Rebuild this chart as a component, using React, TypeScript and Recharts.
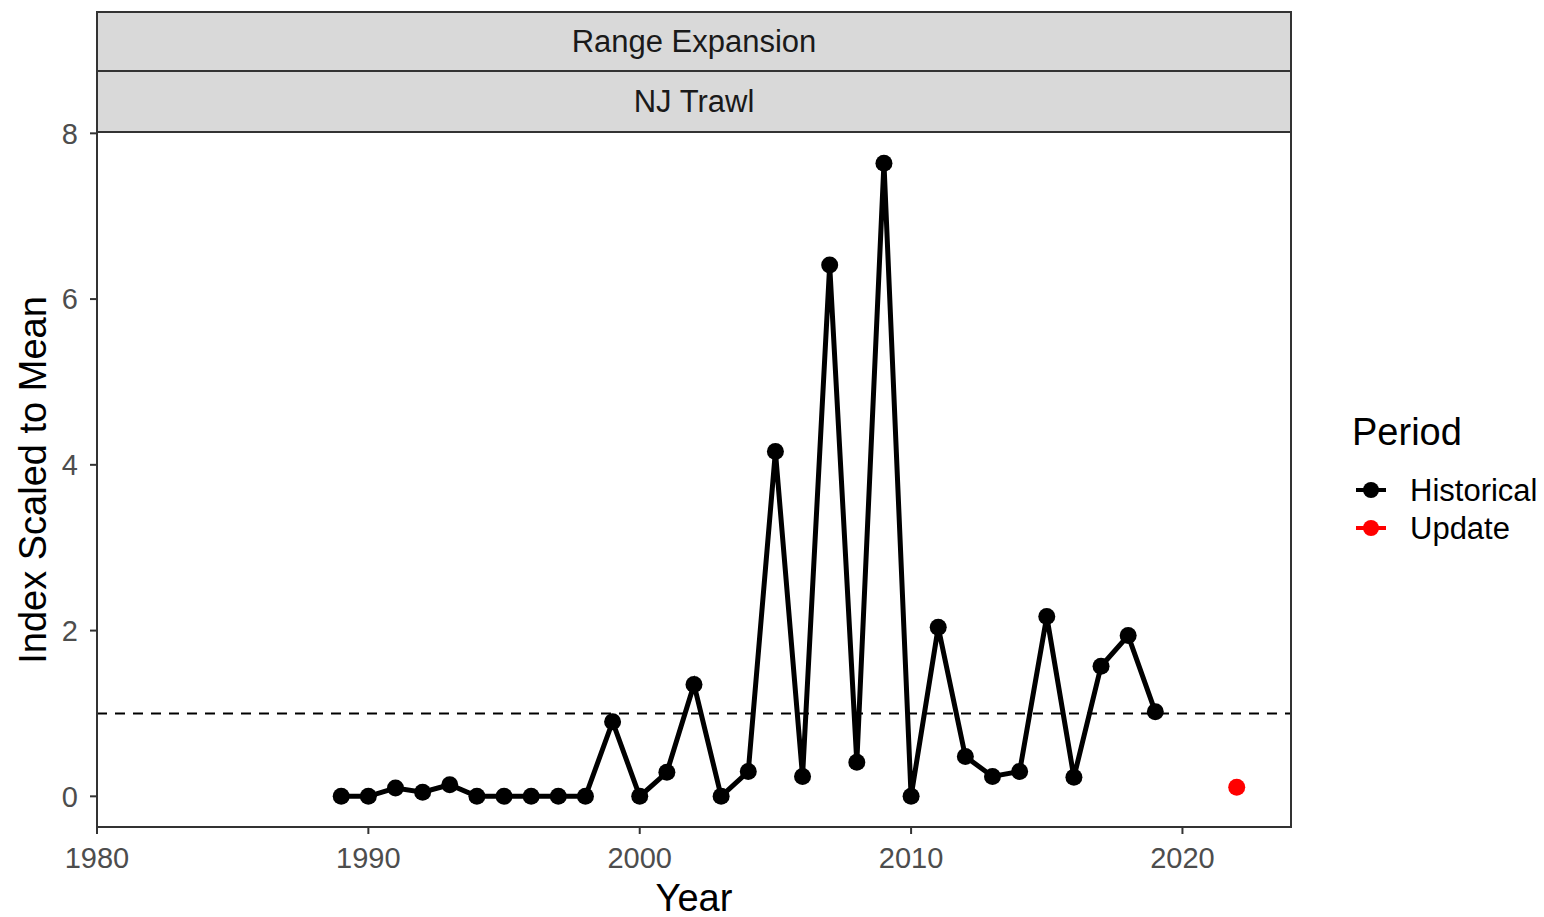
import React from "react";
import { ComposedChart, Line, XAxis, YAxis, ReferenceLine } from "recharts";

const historicalYears = [1989, 1990, 1991, 1992, 1993, 1994, 1995, 1996, 1997, 1998, 1999, 2000, 2001, 2002, 2003, 2004, 2005, 2006, 2007, 2008, 2009, 2010, 2011, 2012, 2013, 2014, 2015, 2016, 2017, 2018, 2019];
const historicalValues = [0, 0, 0.1, 0.05, 0.14, 0, 0, 0, 0, 0, 0.9, 0, 0.29, 1.35, 0, 0.3, 4.16, 0.24, 6.41, 0.41, 7.64, 0, 2.04, 0.48, 0.24, 0.3, 2.17, 0.23, 1.57, 1.94, 1.02];
const updateYears = [2022];
const updateValues = [0.11];
const xTicks = [1980, 1990, 2000, 2010, 2020];
const yTicks = [0, 2, 4, 6, 8];
const stripLabels = ["Range Expansion", "NJ Trawl"];
const legendTitle = "Period";
const legendItems = [
  { name: "Historical", color: "#000000" },
  { name: "Update", color: "#FF0000" },
];

const historical = historicalYears.map((year, i) => ({ year, value: historicalValues[i] }));
const update = updateYears.map((year, i) => ({ year, value: updateValues[i] }));

const FONT = "'Liberation Sans', Arial, sans-serif";

export default function App() {
  return (
    <div style={{ position: "absolute", left: 0, top: 0, width: 1544, height: 917, background: "#fff", fontFamily: FONT }}>
      <ComposedChart width={1544} height={917} margin={{ top: 132, right: 253, bottom: 0, left: 0 }}>
        <XAxis
          type="number"
          dataKey="year"
          domain={[1980, 2024]}
          ticks={xTicks}
          allowDataOverflow
          height={90}
          axisLine={false}
          tickSize={7}
          tickMargin={13}
          tickLine={{ stroke: "#333333", strokeWidth: 2 }}
          tick={{ fill: "#4d4d4d", fontSize: 29, fontFamily: FONT }}
        />
        <YAxis
          type="number"
          dataKey="value"
          domain={[-0.37, 8.016]}
          ticks={yTicks}
          allowDataOverflow
          width={97}
          axisLine={false}
          tickSize={7}
          tickMargin={12}
          tickLine={{ stroke: "#333333", strokeWidth: 2 }}
          tick={{ fill: "#4d4d4d", fontSize: 29, fontFamily: FONT }}
        />
        <ReferenceLine y={1} stroke="#000000" strokeWidth={2} strokeDasharray="10 8" />
        <Line
          data={historical}
          dataKey="value"
          type="linear"
          stroke="#000000"
          strokeWidth={5}
          dot={{ r: 8.5, fill: "#000000", stroke: "none" }}
          activeDot={false}
          isAnimationActive={false}
        />
        <Line
          data={update}
          dataKey="value"
          type="linear"
          stroke="#FF0000"
          strokeWidth={5}
          dot={{ r: 8.5, fill: "#FF0000", stroke: "none" }}
          activeDot={false}
          isAnimationActive={false}
        />
      </ComposedChart>
      <svg width={1544} height={917} style={{ position: "absolute", left: 0, top: 0, pointerEvents: "none" }}>
        <rect x={97} y={12} width={1194} height={59} fill="#d9d9d9" stroke="#333333" strokeWidth={2} />
        <rect x={97} y={71} width={1194} height={61} fill="#d9d9d9" stroke="#333333" strokeWidth={2} />
        <text x={694} y={41.5} dy="0.35em" textAnchor="middle" fontSize={31} fill="#1a1a1a" fontFamily={FONT}>{stripLabels[0]}</text>
        <text x={694} y={101.5} dy="0.35em" textAnchor="middle" fontSize={31} fill="#1a1a1a" fontFamily={FONT}>{stripLabels[1]}</text>
        <rect x={97} y={12} width={1194} height={815} fill="none" stroke="#333333" strokeWidth={2} />
        <text x={694} y={911} textAnchor="middle" fontSize={38} fill="#000000" fontFamily={FONT}>Year</text>
        <text transform="translate(46,480) rotate(-90)" textAnchor="middle" fontSize={38} fill="#000000" fontFamily={FONT}>Index Scaled to Mean</text>
        <text x={1352} y={445} fontSize={38} fill="#000000" fontFamily={FONT}>{legendTitle}</text>
        {legendItems.map((item, i) => {
          const cy = 490 + i * 38;
          return (
            <g key={item.name}>
              <line x1={1356} x2={1386} y1={cy} y2={cy} stroke={item.color} strokeWidth={4} />
              <circle cx={1371} cy={cy} r={8} fill={item.color} />
              <text x={1410} y={cy} dy="0.35em" fontSize={31} fill="#000000" fontFamily={FONT}>{item.name}</text>
            </g>
          );
        })}
      </svg>
    </div>
  );
}
